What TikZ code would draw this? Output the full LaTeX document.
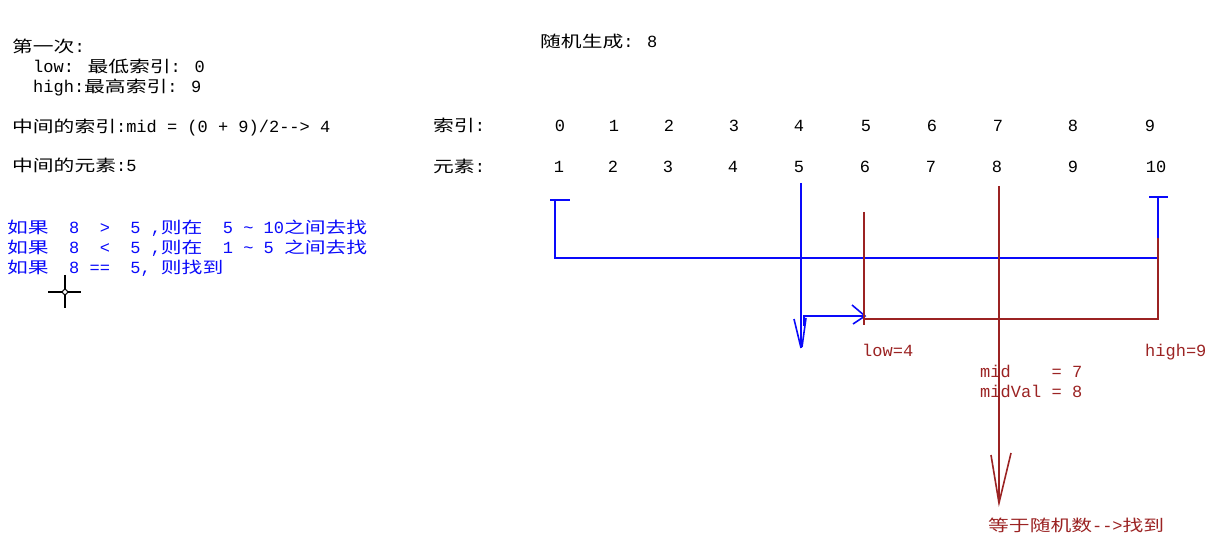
\documentclass[tikz,border=0pt]{standalone}
\usepackage{fontspec}
\setmainfont{Liberation Mono}
\newfontfamily\zh[Scale=0.94,FakeStretch=1.3]{Noto Sans CJK SC}
\definecolor{lineblue}{RGB}{10,10,250}
\definecolor{linered}{RGB}{155,35,35}
\begin{document}
\begin{tikzpicture}[x=1pt,y=-1pt,
  txt/.style={anchor=base west,inner sep=0pt,font=\fontsize{17}{20}\selectfont},
  num/.style={anchor=base,inner sep=0pt,font=\fontsize{17}{20}\selectfont},
  bl/.style={lineblue,line width=1.6pt},
  rd/.style={linered,line width=1.6pt}]
\useasboundingbox (0,0) rectangle (1231,545);
% first step, left notes
\node[txt] (first) at (12,53) {{\zh 第一次}:};
\node[txt] (low) at (33,73) {low: {\zh 最低索引}: 0};
\node[txt] (high) at (33,93) {high:{\zh 最高索引}: 9};
\node[txt] (mididx) at (12,133) {{\zh 中间的索引}:mid = (0 + 9)/2-{}-> 4};
\node[txt] (midval) at (12,172) {{\zh 中间的元素}:5};
\node[txt,lineblue] (case1) at (7,234) {{\zh 如果}\ \ 8\ \ >\ \ 5\ ,{\zh 则在}\ \ 5\ \textasciitilde\ 10{\zh 之间去找}};
\node[txt,lineblue] (case2) at (7,254) {{\zh 如果}\ \ 8\ \ <\ \ 5\ ,{\zh 则在}\ \ 1\ \textasciitilde\ 5\ {\zh 之间去找}};
\node[txt,lineblue] (case3) at (7,274) {{\zh 如果}\ \ 8\ ==\ \ 5,\ {\zh 则找到}};
% cursor
\draw[line width=1.2pt] (48,292) -- (81,292) (65,275) -- (65,308);
\draw[line width=1pt,fill=white] (65,292) circle (2.5);
% array
\node[txt] (rand) at (540,48) {{\zh 随机生成}: 8};
\node[txt] (idxlabel) at (433,132) {{\zh 索引}:};
\node[txt] (elemlabel) at (433,173) {{\zh 元素}:};
\foreach \n/\x in {0/560,1/614,2/669,3/734,4/799,5/866,6/932,7/998,8/1073,9/1150}
  \node[num] (i\n) at (\x,132) {\n};
\foreach \n/\v/\x in {0/1/559,1/2/613,2/3/668,3/4/733,4/5/799,5/6/865,6/7/931,7/8/997,8/9/1073,9/10/1156}
  \node[num] (e\n) at (\x,173) {\v};
% blue range 0..9
\draw[bl] (550,200) -- (570,200);
\draw[bl] (555,200) -- (555,258) -- (1158,258);
\draw[bl] (1149,197) -- (1168,197);
\draw[bl] (1158,197) -- (1158,238);
\draw[bl] (801,183) -- (801,348);
\draw[bl] (794,319) -- (801,348) (806,318) -- (802,347);
\draw[bl] (804,326) -- (804,316) -- (865,316);
\draw[bl] (852,305) -- (865,316) -- (853,324);
% red range 4..9
\draw[rd] (1158,238) -- (1158,319) -- (864,319);
\draw[rd] (864,212) -- (864,325);
\draw[rd] (999,186) -- (999,503);
\draw[rd] (991,455) -- (999,503) -- (1011,453);
\node[txt,linered] (lowlab) at (862,356) {low=4};
\node[txt,linered] (highlab) at (1145,356) {high=9};
\node[txt,linered] (midlab) at (980,377) {mid\ \ \ \ = 7};
\node[txt,linered] (midvallab) at (980,397) {midVal = 8};
\node[txt,linered] (found) at (988,531) {{\zh 等于随机数}-{}->{\zh 找到}};
\end{tikzpicture}
\end{document}
